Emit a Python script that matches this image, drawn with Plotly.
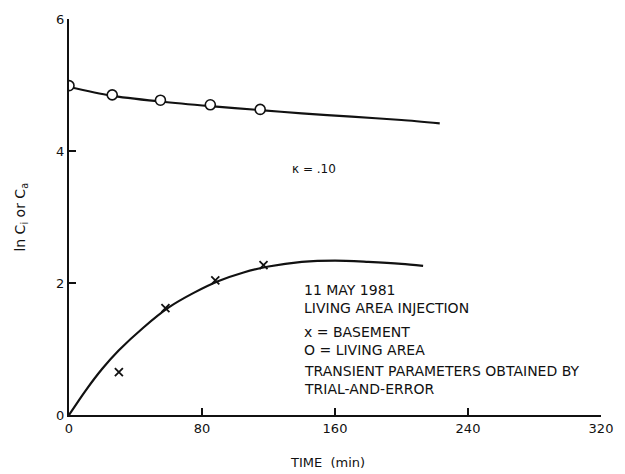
import plotly.graph_objects as go

# Fitted curves
fit_time_living = [0, 25, 55, 85, 115, 140, 170, 200, 223]
fit_living = [4.97, 4.84, 4.75, 4.68, 4.62, 4.57, 4.52, 4.47, 4.42]

fit_time_base = [0, 10, 20, 30, 45, 60, 75, 90, 105, 120, 140, 160, 180, 200, 213]
fit_base = [0, 0.37, 0.70, 0.98, 1.33, 1.63, 1.85, 2.03, 2.16, 2.25, 2.32, 2.34, 2.32, 2.29, 2.26]

# Measured data points
time_living = [0, 26, 55, 85, 115]
living_area = [4.99, 4.85, 4.77, 4.70, 4.63]

time_base = [30, 58, 88, 117]
basement = [0.65, 1.62, 2.04, 2.27]

x_ticks = [0, 80, 160, 240, 320]
y_ticks = [0, 2, 4, 6]

FONT = "DejaVu Sans"
INK = "#111"

fig = go.Figure()
fig.add_trace(go.Scatter(x=fit_time_living, y=fit_living, mode="lines",
                         line=dict(color=INK, width=2.2, shape="spline", smoothing=0.8),
                         showlegend=False, hoverinfo="skip"))
fig.add_trace(go.Scatter(x=fit_time_base, y=fit_base, mode="lines",
                         line=dict(color=INK, width=2.2, shape="spline", smoothing=0.8),
                         showlegend=False, hoverinfo="skip"))
fig.add_trace(go.Scatter(x=time_living, y=living_area, mode="markers",
                         marker=dict(symbol="circle", size=10, color="white",
                                     line=dict(color=INK, width=1.6)),
                         showlegend=False))
fig.add_trace(go.Scatter(x=time_base, y=basement, mode="markers",
                         marker=dict(symbol="x-thin-open", size=8, color=INK,
                                     line=dict(color=INK, width=1.8)),
                         showlegend=False))

ann = []
groups = [
    ("11 MAY 1981<br>LIVING AREA INJECTION", 1.755),
    ("x = BASEMENT<br>O = LIVING AREA", 1.125),
    ("TRANSIENT PARAMETERS OBTAINED BY<br>TRIAL-AND-ERROR", 0.525),
]
for txt, yv in groups:
    ann.append(dict(x=140.4, y=yv, xref="x", yref="y", text=txt, showarrow=False,
                    xanchor="left", yanchor="middle", align="left",
                    font=dict(family=FONT, size=14, color=INK)))
ann.append(dict(x=147.5, y=3.72, xref="x", yref="y", text="κ = .10", showarrow=False,
                xanchor="center", yanchor="middle",
                font=dict(family=FONT, size=12, color=INK)))
ann.append(dict(x=-0.091, y=0.5, xref="paper", yref="paper",
                text="ln C<sub>i</sub> or C<sub>a</sub>", showarrow=False, textangle=-90,
                xanchor="center", yanchor="middle",
                font=dict(family=FONT, size=14, color=INK)))
ann.append(dict(x=0.485, y=-0.12, xref="paper", yref="paper",
                text="TIME  (min)", showarrow=False,
                xanchor="center", yanchor="middle",
                font=dict(family=FONT, size=13, color=INK)))

fig.update_layout(
    width=625, height=474,
    margin=dict(l=69, r=18, t=15, b=59),
    paper_bgcolor="white", plot_bgcolor="white",
    annotations=ann,
    font=dict(family=FONT, color=INK),
    xaxis=dict(range=[0, 320], tickvals=x_ticks, ticktext=[str(v) for v in x_ticks],
               showline=True, linecolor=INK, linewidth=2, ticks="inside",
               ticklen=7, tickwidth=1.5, tickcolor=INK, showgrid=False,
               zeroline=False, tickfont=dict(family=FONT, size=13, color=INK)),
    yaxis=dict(range=[0, 6], tickvals=y_ticks, ticktext=[str(v) for v in y_ticks],
               showline=True, linecolor=INK, linewidth=2, ticks="inside",
               ticklen=7, tickwidth=1.5, tickcolor=INK, showgrid=False,
               zeroline=False, tickfont=dict(family=FONT, size=13, color=INK)),
)

fig.write_html("out.html")
